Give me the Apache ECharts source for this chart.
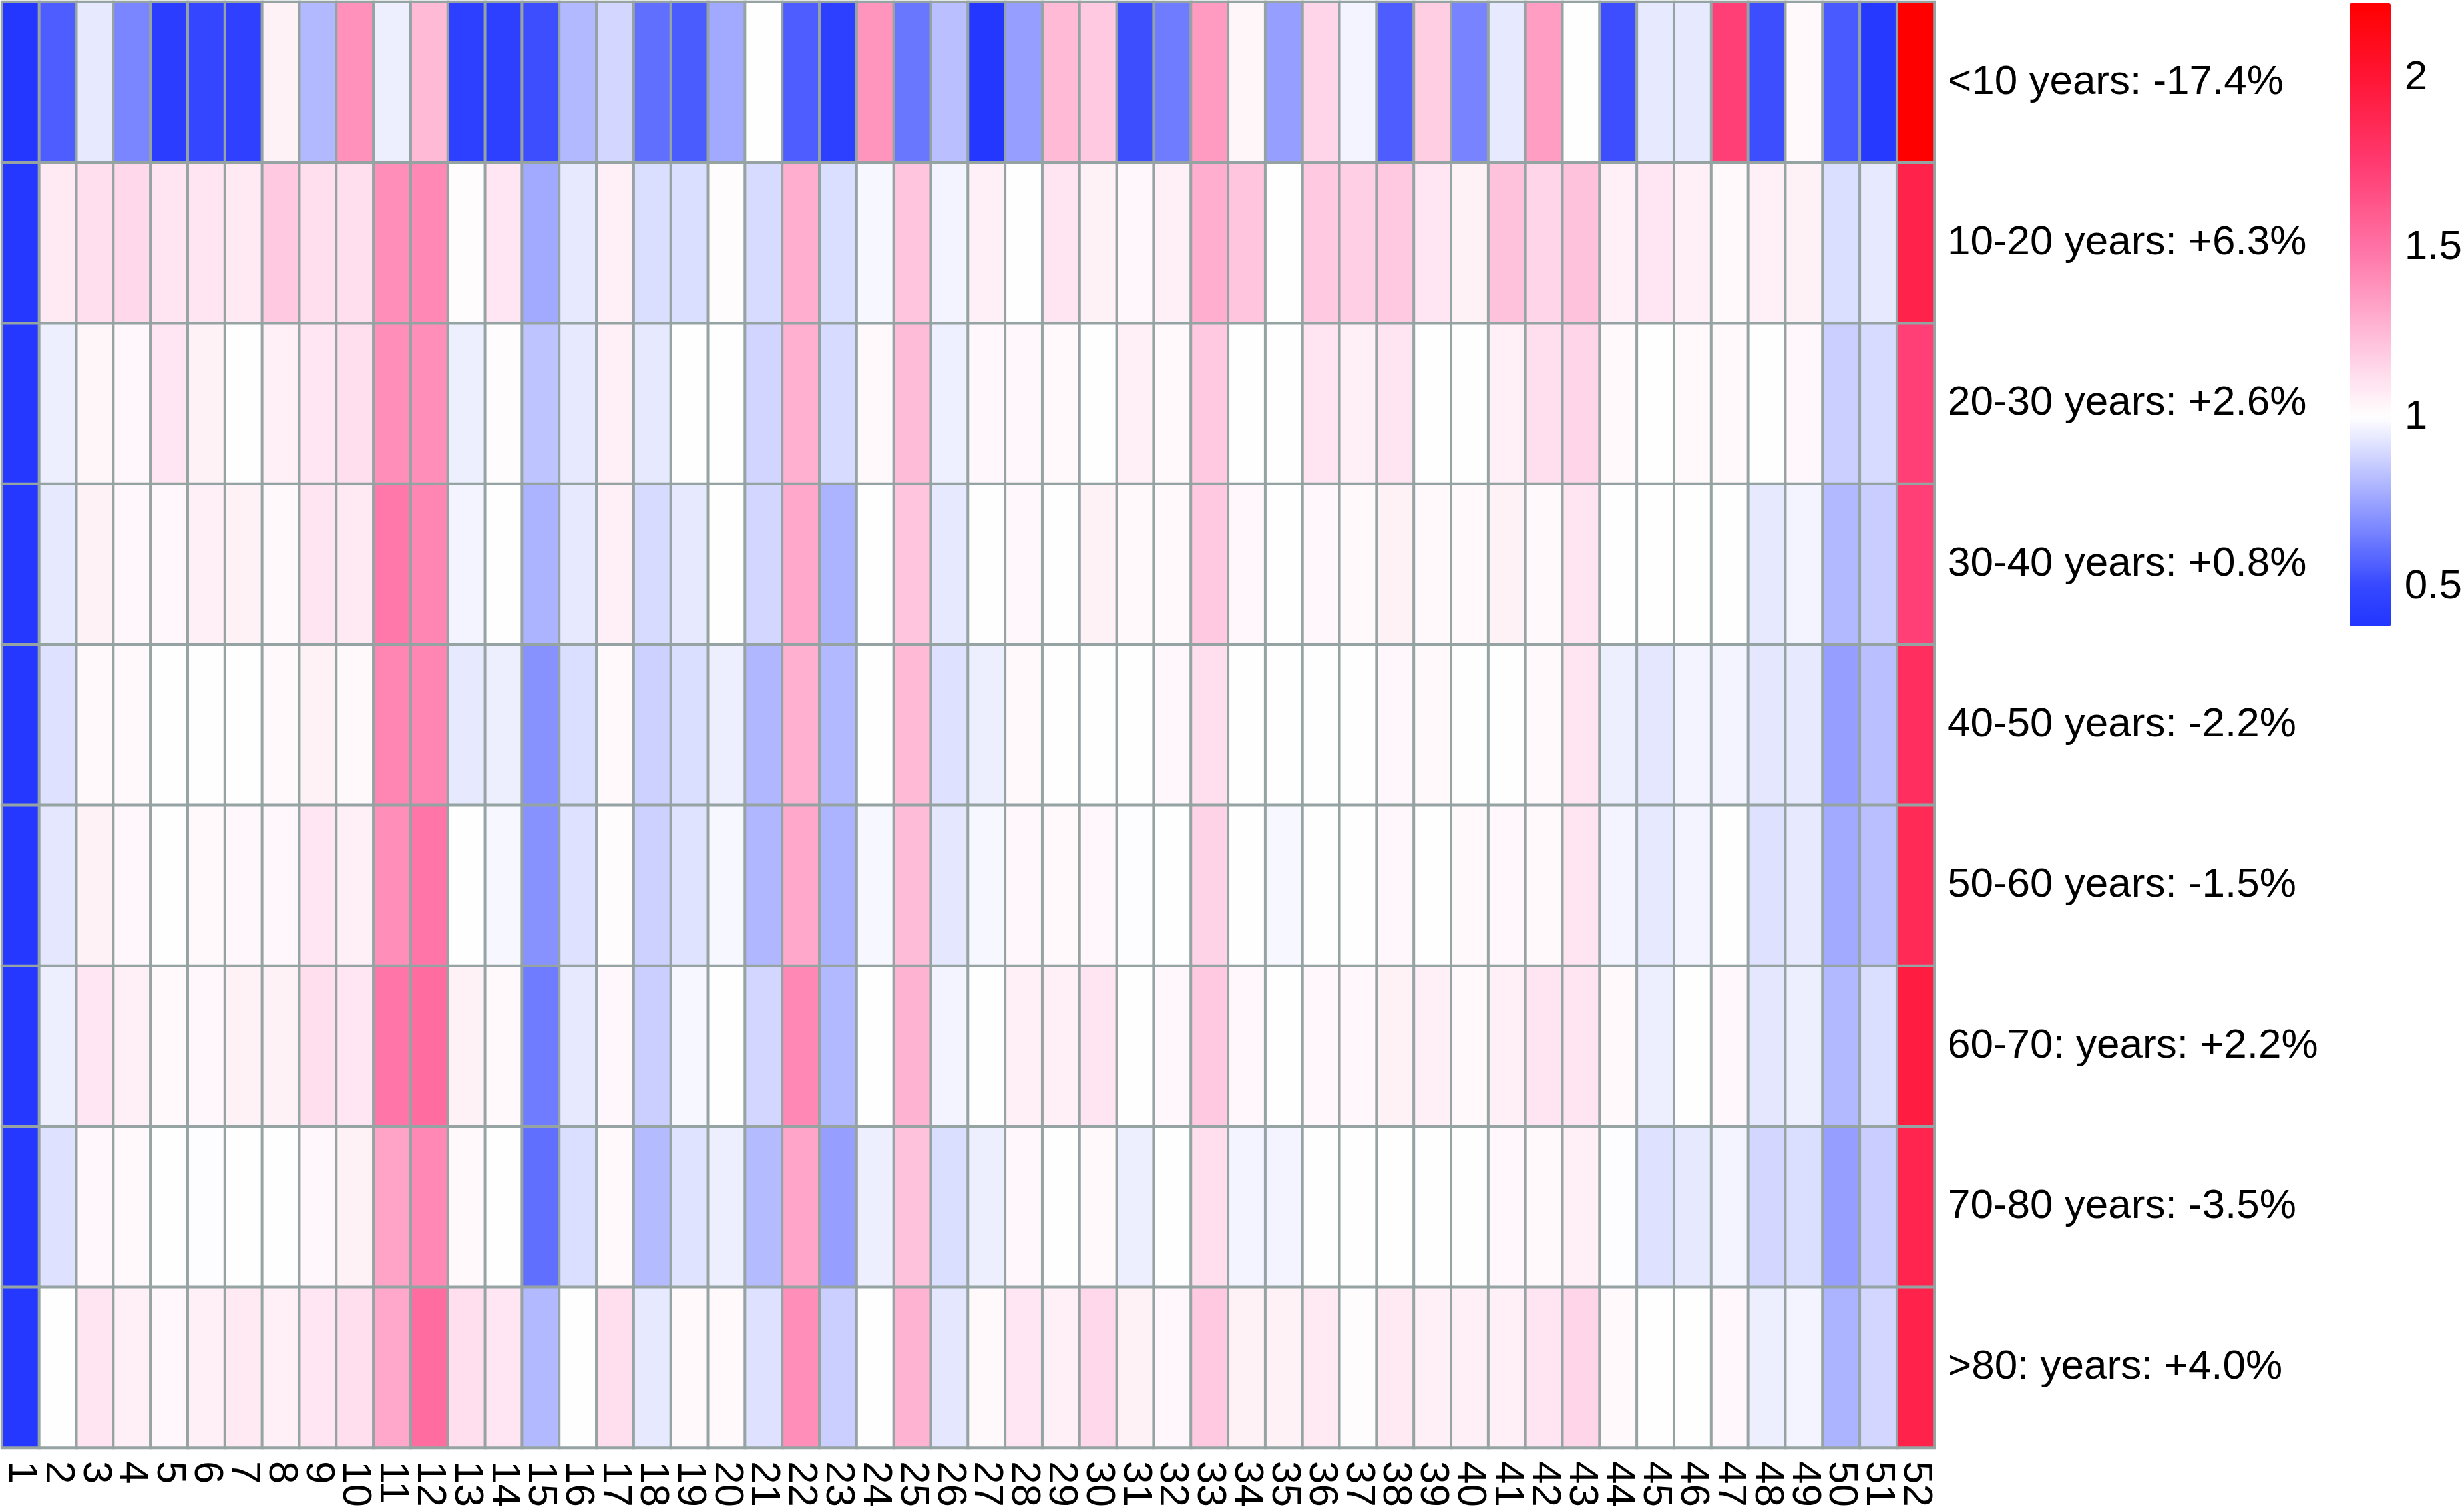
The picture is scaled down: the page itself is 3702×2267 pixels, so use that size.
<!DOCTYPE html>
<html>
<head>
<meta charset="utf-8">
<script src="https://cdn.jsdelivr.net/npm/echarts@6/dist/echarts.min.js"></script>
<style>
html,body{margin:0;padding:0;background:#fff;}
#chart{width:3702px;height:2267px;}
</style>
</head>
<body>
<div id="chart"></div>
<script>
const colLabels = ['1','2','3','4','5','6','7','8','9','10','11','12','13','14','15','16','17','18','19','20','21','22','23','24','25','26','27','28','29','30','31','32','33','34','35','36','37','38','39','40','41','42','43','44','45','46','47','48','49','50','51','52'];
const rowLabels = ['<10 years: -17.4%','10-20 years: +6.3%','20-30 years: +2.6%','30-40 years: +0.8%','40-50 years: -2.2%','50-60 years: -1.5%','60-70: years: +2.2%','70-80 years: -3.5%','>80: years: +4.0%'];
const colorbarTicks = [0.5, 1, 1.5, 2];

const rowLt10 = [0.39,0.56,0.94,0.67,0.44,0.49,0.46,1.05,0.81,1.39,0.955,1.25,0.45,0.45,0.52,0.81,0.89,0.61,0.555,0.77,1.0,0.56,0.45,1.38,0.63,0.83,0.39,0.74,1.25,1.19,0.52,0.645,1.36,1.035,0.74,1.15,0.97,0.56,1.18,0.665,0.94,1.35,1.0,0.52,0.94,0.94,1.73,0.52,1.02,0.55,0.41,2.22];
const row10_20 = [0.40,1.08,1.12,1.14,1.10,1.10,1.08,1.19,1.12,1.12,1.40,1.42,1.01,1.09,0.77,0.94,1.06,0.91,0.91,1.01,0.90,1.29,0.91,0.98,1.21,0.97,1.06,1.0,1.095,1.05,1.03,1.06,1.29,1.21,1.0,1.19,1.17,1.19,1.09,1.05,1.22,1.15,1.22,1.06,1.09,1.06,1.02,1.06,1.05,0.91,0.94,1.91];
const row20_30 = [0.40,0.955,1.035,1.03,1.09,1.05,1.0,1.06,1.09,1.12,1.40,1.40,0.955,1.01,0.84,0.94,1.06,0.94,1.0,1.0,0.885,1.285,0.90,1.02,1.24,0.96,1.03,1.03,1.02,1.0,1.06,1.02,1.19,1.0,1.0,1.095,1.06,1.095,1.0,1.0,1.06,1.12,1.15,1.02,1.0,1.02,1.02,1.0,1.03,0.87,0.90,1.73];
const row30_40 = [0.40,0.94,1.05,1.03,1.03,1.06,1.05,1.02,1.095,1.08,1.48,1.43,0.97,1.0,0.795,0.94,1.06,0.90,0.94,1.0,0.89,1.31,0.795,1.0,1.21,0.94,1.0,1.03,1.0,1.05,1.02,1.02,1.19,1.03,1.0,1.03,1.02,1.05,1.02,1.02,1.05,1.02,1.095,1.0,1.0,1.0,1.0,0.94,0.97,0.81,0.865,1.73];
const row40_50 = [0.40,0.92,1.02,1.02,1.0,1.0,1.0,1.02,1.05,1.02,1.43,1.43,0.94,0.955,0.705,0.91,1.02,0.875,0.91,0.955,0.805,1.285,0.81,1.0,1.25,0.92,0.955,1.02,1.0,1.0,1.0,1.03,1.12,1.0,1.0,1.0,1.0,1.03,1.02,1.0,1.0,1.02,1.095,0.955,0.935,0.97,0.97,0.935,0.94,0.74,0.83,1.83];
const row50_60 = [0.40,0.935,1.05,1.03,1.0,1.02,1.03,1.03,1.09,1.06,1.40,1.49,1.0,0.98,0.705,0.92,1.01,0.875,0.925,0.98,0.805,1.31,0.795,0.98,1.24,0.935,0.98,1.03,1.02,1.03,0.995,1.0,1.16,1.0,0.98,1.0,1.0,1.03,1.0,1.02,1.03,1.02,1.095,0.97,0.94,0.97,1.0,0.92,0.94,0.77,0.83,1.86];
const row60_70 = [0.40,0.955,1.09,1.06,1.02,1.03,1.05,1.05,1.12,1.09,1.49,1.53,1.05,1.02,0.645,0.94,1.03,0.87,0.98,1.0,0.89,1.42,0.81,1.0,1.27,0.97,1.0,1.06,1.06,1.095,1.0,1.03,1.19,1.03,1.0,1.03,1.03,1.05,1.06,1.02,1.06,1.095,1.095,1.02,0.955,1.0,1.03,0.935,0.955,0.81,0.91,1.95];
const row70_80 = [0.40,0.92,1.03,1.02,1.0,0.995,1.0,1.0,1.03,1.05,1.33,1.42,1.02,1.0,0.61,0.91,1.02,0.815,0.925,0.955,0.815,1.32,0.74,0.955,1.22,0.91,0.955,1.03,1.0,1.02,0.955,1.0,1.12,0.97,0.97,1.0,1.0,1.0,1.0,1.0,1.03,1.02,1.06,0.995,0.92,0.94,0.97,0.89,0.91,0.74,0.865,1.89];
const rowGt80 = [0.40,1.0,1.10,1.06,1.03,1.06,1.08,1.06,1.09,1.12,1.31,1.53,1.12,1.09,0.81,1.0,1.12,0.94,1.02,1.02,0.92,1.40,0.87,1.0,1.27,0.935,1.02,1.09,1.06,1.14,1.05,1.03,1.19,1.05,1.05,1.08,1.01,1.08,1.06,1.06,1.06,1.095,1.15,1.02,1.0,1.0,1.03,0.955,0.97,0.795,0.89,1.91];

const rows = [rowLt10,row10_20,row20_30,row30_40,row40_50,row50_60,row60_70,row70_80,rowGt80];

const valueMin = 0.384, valueMax = 2.22;
const colorStops = [
  [0.384,'#2236FF'],[0.5,'#3547FF'],[0.75,'#9AA3FF'],[1.0,'#FFFFFF'],
  [1.15,'#FFD6E9'],[1.3,'#FFABCD'],[1.5,'#FF72A5'],[1.75,'#FF3A70'],
  [2.0,'#FF1535'],[2.22,'#FF0000']
];

function hexToRgb(h){ return [parseInt(h.slice(1,3),16),parseInt(h.slice(3,5),16),parseInt(h.slice(5,7),16)]; }
function colorAt(v){
  if (v <= colorStops[0][0]) return colorStops[0][1];
  for (let i=1;i<colorStops.length;i++){
    if (v <= colorStops[i][0]){
      const a = colorStops[i-1], b = colorStops[i];
      const t = (v - a[0])/(b[0]-a[0]);
      const ca = hexToRgb(a[1]), cb = hexToRgb(b[1]);
      const c = ca.map((x,k)=>Math.round(x + (cb[k]-x)*t));
      return 'rgb('+c.join(',')+')';
    }
  }
  return colorStops[colorStops.length-1][1];
}
const rampColors = [];
const N = 240;
for (let i=0;i<N;i++){ rampColors.push(colorAt(valueMin + (valueMax-valueMin)*i/(N-1))); }

const heatData = [];
rows.forEach((r, yi) => r.forEach((v, xi) => heatData.push([xi, yi, v])));

const FONT = 'Liberation Sans, Arial, Helvetica, sans-serif';
const chart = echarts.init(document.getElementById('chart'), null, {renderer:'canvas'});
chart.setOption({
  backgroundColor: '#ffffff',
  animation: false,
  grid: [
    {left: 3, top: 3, width: 2903, height: 2176},
    {left: 3530, top: 5, width: 62, height: 936}
  ],
  xAxis: [
    {gridIndex: 0, type: 'category', data: colLabels, position: 'bottom',
     axisLine: {show: false}, axisTick: {show: false}, splitLine: {show: false},
     axisLabel: {rotate: -90, interval: 0, fontSize: 62, fontFamily: FONT, color: '#000', margin: 20}},
    {gridIndex: 1, type: 'value', show: false, min: 0, max: 1}
  ],
  yAxis: [
    {gridIndex: 0, type: 'category', data: rowLabels, inverse: true, position: 'right',
     axisLine: {show: false}, axisTick: {show: false}, splitLine: {show: false},
     axisLabel: {fontSize: 62, fontFamily: FONT, color: '#000', margin: 20, padding: [14, 0, 0, 0]}},
    {gridIndex: 1, type: 'value', min: valueMin, max: valueMax, position: 'right',
     axisLine: {show: false}, axisTick: {show: false}, splitLine: {show: false},
     axisLabel: {customValues: colorbarTicks, fontSize: 62, fontFamily: FONT, color: '#000', margin: 26, padding: [12, 0, 0, 0]}}
  ],
  visualMap: {
    type: 'continuous', min: valueMin, max: valueMax, calculable: false, hoverLink: false,
    orient: 'vertical', left: 3530, top: 5, itemWidth: 62, itemHeight: 936, padding: 0,
    text: null, showLabel: false, seriesIndex: 0,
    inRange: {color: rampColors}
  },
  series: [{
    type: 'heatmap', xAxisIndex: 0, yAxisIndex: 0, data: heatData,
    itemStyle: {borderColor: '#96A3A3', borderWidth: 4},
    emphasis: {disabled: true}, label: {show: false}
  }]
});
</script>
</body>
</html>
